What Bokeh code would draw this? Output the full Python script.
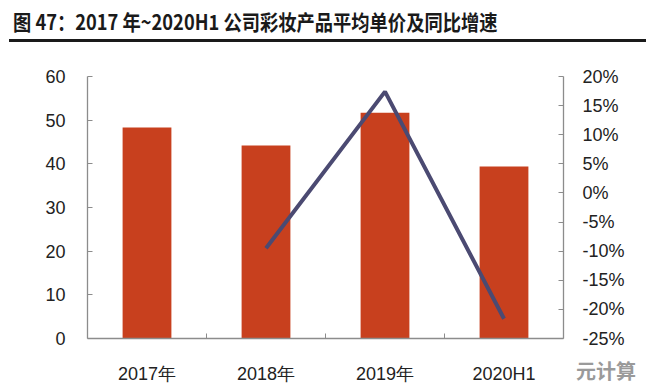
import numpy as np
from bokeh.plotting import figure
from bokeh.models import (Range1d, LinearAxis, FixedTicker, PrintfTickFormatter,
                          Div, GridBox)
from bokeh.embed import file_html
from bokeh.resources import INLINE

# ---- data ----
categories = ["2017年", "2018年", "2019年", "2020H1"]
avg_price = [48.3, 44.2, 51.7, 39.4]          # left axis
yoy_growth = [np.nan, -9.5, 17.4, -21.6]      # right axis, %
left_ticks = [0, 10, 20, 30, 40, 50, 60]
right_ticks = [-25, -20, -15, -10, -5, 0, 5, 10, 15, 20]
title_text = "图 47：2017 年~2020H1 公司彩妆产品平均单价及同比增速"
watermark = "元计算"

xs = [i + 0.5 for i in range(len(categories))]
bounds = [i for i in range(1, len(categories))]

W, H = 646, 391
FONT = "Liberation Sans"
TXT = "#222222"
AX = "#8c8c8c"

p = figure(width=W, height=H, x_range=Range1d(0, len(categories)),
           y_range=Range1d(left_ticks[0], left_ticks[-1]),
           output_backend="svg", toolbar_location=None, title=None,
           min_border_left=87, min_border_right=83, min_border_top=76,
           min_border_bottom=53, x_axis_location=None, y_axis_location=None,
           background_fill_color=None, border_fill_color=None)
p.outline_line_color = None
p.xgrid.visible = False
p.ygrid.visible = False
p.extra_y_ranges = {"pct": Range1d(right_ticks[0], right_ticks[-1])}

def style_axis(ax):
    ax.axis_line_color = AX
    ax.axis_line_width = 1.3
    ax.major_tick_line_color = AX
    ax.minor_tick_line_color = AX
    ax.major_tick_in = 5
    ax.major_tick_out = 0
    ax.minor_tick_in = 0
    ax.minor_tick_out = 0
    ax.major_label_text_font = FONT
    ax.major_label_text_font_size = "18px"
    ax.major_label_text_color = TXT

yl = LinearAxis(ticker=FixedTicker(ticks=left_ticks))
style_axis(yl)
yl.major_label_standoff = 22
p.add_layout(yl, "left")

yr = LinearAxis(y_range_name="pct", ticker=FixedTicker(ticks=right_ticks),
                formatter=PrintfTickFormatter(format="%d%%"))
style_axis(yr)
yr.major_label_standoff = 19
p.add_layout(yr, "right")

xb = LinearAxis(ticker=FixedTicker(ticks=xs, minor_ticks=bounds),
                major_label_overrides={x: c for x, c in zip(xs, categories)})
style_axis(xb)
xb.major_tick_in = 0
xb.minor_tick_in = 5
xb.major_label_standoff = 25
p.add_layout(xb, "below")

p.vbar(x=xs, top=avg_price, width=0.41, fill_color="#c8401e", line_color=None)
p.line(x=xs, y=yoy_growth, y_range_name="pct", line_color="#4b4a72", line_width=4)

# ---- overlay (title, rule under the title, watermark) ----
overlay_html = (
    f'<div style="position:relative;width:{W}px;height:{H}px;">'
    f'<div style="position:absolute;left:8px;top:5px;white-space:nowrap;'
    f'font-family:\'Noto Sans CJK SC\';font-weight:bold;font-size:21px;'
    f'line-height:22px;color:#1a1a1a;transform:scaleX(0.87);'
    f'transform-origin:0 50%;">{title_text}</div>'
    f'<div style="position:absolute;left:4px;top:34px;width:{W}px;height:2.5px;'
    f'background:#1a1a1a;"></div>'
    f'<div style="position:absolute;left:571px;top:356px;white-space:nowrap;'
    f'font-family:\'Noto Sans CJK SC\';font-weight:bold;font-size:20px;'
    f'line-height:20px;color:#9a9a9a;">{watermark}</div>'
    f'</div>'
)
ov = Div(text=overlay_html, width=W, height=H)

layout = GridBox(children=[(p, 0, 0), (ov, 0, 0)])

open("out.html", "w").write(file_html(layout, INLINE))
